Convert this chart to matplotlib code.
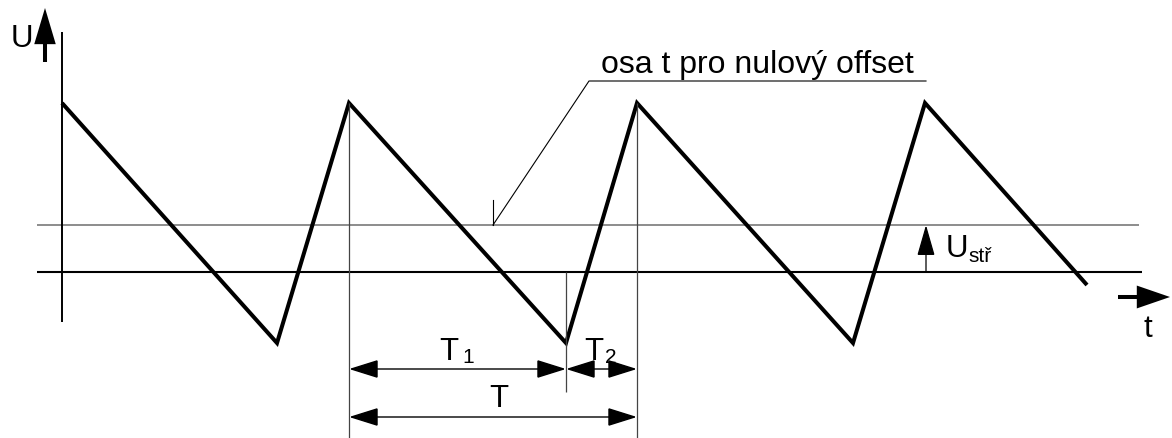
import matplotlib
matplotlib.use("Agg")
import matplotlib.pyplot as plt
from matplotlib.patches import FancyArrowPatch

# ---- data (time / voltage in drawing units) ----
wave_t = [0, 215, 287, 504, 575, 791, 863, 1025]
wave_u = [169, -71, 169, -71, 169, -71, 169, -13]
u_offset = 47            # mean value U_str
t_start, t_end = -25, 1080   # extent of the horizontal axes lines
t_peak_a, t_trough, t_peak_b = 287, 504, 575   # one period T = T1 + T2
label_main = "osa t pro nulový offset"

FONT = ["Liberation Sans", "DejaVu Sans"]
plt.rcParams["font.family"] = FONT

fig = plt.figure(figsize=(11.72, 4.38), dpi=100)
ax = fig.add_axes([0, 0, 1, 1])
ax.set_xlim(-62, 1110)
ax.set_ylim(-166, 272)
ax.axis("off")

# axes lines
ax.plot([t_start, t_end], [0, 0], color="black", lw=1.5, solid_capstyle="butt")
ax.plot([t_start, t_end - 3], [u_offset, u_offset], color="#6e6e6e", lw=1.1,
        solid_capstyle="butt")
ax.plot([0, 0], [240, -50], color="black", lw=1.4, solid_capstyle="butt")

# waveform
ax.plot(wave_t, wave_u, color="black", lw=2.9, solid_joinstyle="miter",
        solid_capstyle="butt")

# extension lines
thin = dict(color="#444444", lw=0.9, solid_capstyle="butt")
ax.plot([t_peak_a, t_peak_a], [max(wave_u), -166], **thin)
ax.plot([t_peak_b, t_peak_b], [max(wave_u), -166], **thin)
ax.plot([t_trough, t_trough], [0, -120], **thin)


def arrow(p0, p1, style, lw, hl=18, hw=5.4, color="black"):
    a = FancyArrowPatch(p0, p1, arrowstyle=f"{style},head_length={hl},head_width={hw}",
                        mutation_scale=1, lw=lw, color=color,
                        shrinkA=0, shrinkB=0, joinstyle="miter", capstyle="butt")
    ax.add_patch(a)


# dimension arrows
arrow((t_peak_a, -97), (t_trough, -97), "<|-|>", 1.0, hl=18.5, hw=5.8)
arrow((t_trough, -97), (t_peak_b, -97), "<|-|>", 1.0, hl=18.5, hw=5.8)
arrow((t_peak_a, -145), (t_peak_b, -145), "<|-|>", 1.0, hl=18.5, hw=5.8)

# U_str arrow
arrow((864, 0), (864, u_offset), "-|>", 0.9, hl=19.5, hw=5.6)

# axis arrows
arrow((-17, 210), (-17, 264), "-|>", 2.9, hl=19.5, hw=5.8)
arrow((1056, -25), (1108, -25), "-|>", 2.9, hl=18, hw=6.2)

# leader line
ax.plot([431, 527, 864], [u_offset, 191, 191], color="black", lw=0.8,
        solid_joinstyle="miter")
ax.plot([431, 431], [u_offset, 72], color="black", lw=0.8)

# texts
fs, fss = 22.5, 15
ax.text(539, 199, label_main, fontsize=23, va="baseline", ha="left")
ax.text(-51, 225, "U", fontsize=fs, va="baseline", ha="left")
ax.text(1086, -65, "t", fontsize=fs, va="baseline", ha="center")
ax.text(377, -88, "T", fontsize=fs, va="baseline", ha="left")
ax.text(400, -91, "1", fontsize=fss, va="baseline", ha="left")
ax.text(522, -88, "T", fontsize=fs, va="baseline", ha="left")
ax.text(543, -91, "2", fontsize=fss, va="baseline", ha="left")
ax.text(427, -135, "T", fontsize=fs, va="baseline", ha="left")
ax.text(884, 15, "U", fontsize=fs, va="baseline", ha="left")
ax.text(906, 10, "stř", fontsize=fss, va="baseline", ha="left")

fig.savefig("out.png", dpi=100, facecolor="white")
